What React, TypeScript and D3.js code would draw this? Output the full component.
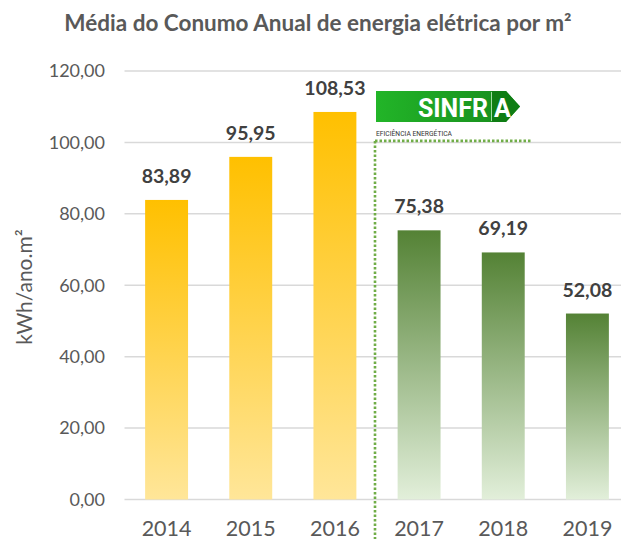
import React from "react";
import * as d3 from "d3";

const years = ["2014", "2015", "2016", "2017", "2018", "2019"];
const values = [83.89, 95.95, 108.53, 75.38, 69.19, 52.08];
const groups = ["before", "before", "before", "after", "after", "after"];
const yTicks = [0, 20, 40, 60, 80, 100, 120];
const titleText = "Média do Conumo Anual de energia elétrica por m²";
const yAxisTitle = "kWh/ano.m²";

const W = 621;
const H = 539;
const FONT = "Lato, 'Open Sans', sans-serif";

const fmt = (v: number) => v.toFixed(2).replace(".", ",");

export default function App() {
  const x = d3.scaleBand<string>().domain(years).range([124.5, 629.5]).paddingInner(0.49).paddingOuter(0.245);
  const y = d3.scaleLinear().domain([0, 120]).range([499.5, 71]);
  const splitX = (x("2016")! + x.bandwidth() + x("2017")!) / 2 - 2;
  const splitY = y(100) - 1.5;

  return (
    <svg width={W} height={H} style={{ position: "absolute", left: 0, top: 0, background: "#fff" }} fontFamily={FONT}>
      <defs>
        <linearGradient id="gBefore" x1="0" y1="0" x2="0" y2="1">
          <stop offset="0" stopColor="#FFC000" />
          <stop offset="1" stopColor="#FFE699" />
        </linearGradient>
        <linearGradient id="gAfter" x1="0" y1="0" x2="0" y2="1">
          <stop offset="0" stopColor="#548235" />
          <stop offset="1" stopColor="#E2EFDA" />
        </linearGradient>
        <linearGradient id="gLogo" x1="0" y1="0" x2="1" y2="0">
          <stop offset="0" stopColor="#22B528" />
          <stop offset="1" stopColor="#178A1C" />
        </linearGradient>
      </defs>
      <rect width={W} height={H} fill="#fff" />
      <text x={318} y={31} textAnchor="middle" fontSize={22.5} fontWeight="bold" fill="#595959">{titleText}</text>

      {yTicks.map((t) => (
        <g key={t}>
          <line x1={124.5} x2={W} y1={y(t)} y2={y(t)} stroke="#d9d9d9" strokeWidth={1.5} />
          <text x={105} y={y(t)} dy="0.35em" textAnchor="end" fontSize={18} fill="#595959">{fmt(t)}</text>
        </g>
      ))}

      <text transform={`translate(32,287) rotate(-90)`} textAnchor="middle" fontSize={21} fill="#595959">{yAxisTitle}</text>

      {years.map((yr, i) => (
        <g key={yr}>
          <rect x={x(yr)} y={y(values[i])} width={x.bandwidth()} height={y(0) - y(values[i])} fill={groups[i] === "before" ? "url(#gBefore)" : "url(#gAfter)"} />
          <text x={x(yr)! + x.bandwidth() / 2} y={y(values[i]) - 17} textAnchor="middle" fontSize={19.5} fontWeight="bold" fill="#404040">{fmt(values[i])}</text>
          <text x={x(yr)! + x.bandwidth() / 2} y={535.5} textAnchor="middle" fontSize={21.5} fill="#595959">{yr}</text>
        </g>
      ))}

      <line x1={splitX} x2={splitX} y1={splitY} y2={H} stroke="#70AD47" strokeWidth={2.6} strokeDasharray="2.5 2" />
      <line x1={splitX} x2={532} y1={splitY} y2={splitY} stroke="#70AD47" strokeWidth={2.6} strokeDasharray="2.5 2" />

      <g>
        <path d="M376,91 H506 L520,106.5 L506,122 H376 Z" fill="url(#gLogo)" />
        <path d="M492,91 H506 L520,106.5 L506,122 H492 Z" fill="#0F7D14" />
        <line x1={491.5} x2={491.5} y1={92} y2={121} stroke="#9fdca2" strokeWidth={1} />
        <text x={488} y={117} textAnchor="end" fontFamily="Roboto, sans-serif" fontWeight="bold" fontSize={25} fill="#fff">SINFR</text>
        <text x={494} y={117} fontFamily="Roboto, sans-serif" fontWeight="bold" fontSize={25} fill="#fff">A</text>
        <text x={376} y={135.5} fontFamily="Roboto, sans-serif" fontSize={7} fill="#333" textLength={76} lengthAdjust="spacingAndGlyphs">EFICIÊNCIA ENERGÉTICA</text>
      </g>
    </svg>
  );
}
